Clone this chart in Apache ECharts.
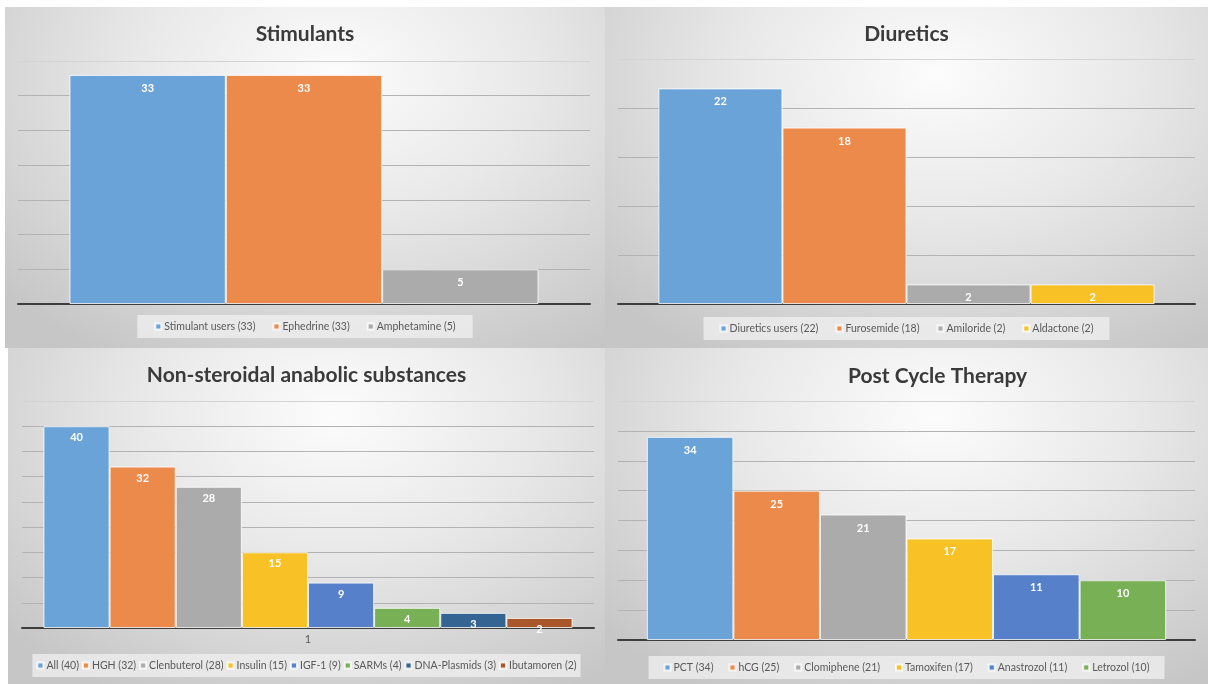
<!DOCTYPE html>
<html><head><meta charset="utf-8">
<script src="https://cdn.jsdelivr.net/npm/echarts@6/dist/echarts.min.js"></script>
<style>
html,body{margin:0;padding:0;background:#fff;width:1208px;height:684px;overflow:hidden;}
.p{position:absolute;background:radial-gradient(ellipse 75% 95% at 55% 20%, #fcfcfc 0%, #e8e8e8 45%, #c6c6c6 100%);}
</style></head>
<body>
<div id="c1" class="p" style="left:5px;top:7px;width:600px;height:341px"></div>
<div id="c2" class="p" style="left:605px;top:7px;width:603px;height:341px"></div>
<div id="c3" class="p" style="left:8px;top:348px;width:597px;height:336px"></div>
<div id="c4" class="p" style="left:605px;top:348px;width:603px;height:336px"></div>
<script>
// ---- data ----
const stimNames = ['Stimulant users (33)', 'Ephedrine (33)', 'Amphetamine (5)'];
const stimValues = [33, 33, 5];
const diurNames = ['Diuretics users (22)', 'Furosemide (18)', 'Amiloride (2)', 'Aldactone (2)'];
const diurValues = [22, 18, 2, 2];
const nsaNames = ['All (40)', 'HGH (32)', 'Clenbuterol (28)', 'Insulin (15)', 'IGF-1 (9)', 'SARMs (4)', 'DNA-Plasmids (3)', 'Ibutamoren (2)'];
const nsaValues = [40, 32, 28, 15, 9, 4, 3, 2];
const pctNames = ['PCT (34)', 'hCG (25)', 'Clomiphene (21)', 'Tamoxifen (17)', 'Anastrozol (11)', 'Letrozol (10)'];
const pctValues = [34, 25, 21, 17, 11, 10];
const categoryLabel = ['1'];

const palette = ['#6aa3d8', '#ec8a4b', '#ababab', '#f8c125', '#5680c9', '#77b055', '#346491', '#a8562a'];

function build(el, cfg) {
  const chart = echarts.init(document.getElementById(el), null, {renderer: 'canvas'});
  const n = cfg.max / cfg.interval;
  const lineColors = [];
  for (let i = 0; i <= n; i++) lineColors.push(i === n ? '#d4d4d4' : '#b3b3b3');
  chart.setOption({
    backgroundColor: 'transparent',
    animation: false,
    color: palette,
    title: {
      text: cfg.title, left: cfg.titleLeft, top: cfg.titleTop,
      textStyle: {fontFamily: 'Lato', fontWeight: 'bold', fontSize: 21, color: '#3a3a3a'}
    },
    legend: {
      data: cfg.names, left: 'center', top: cfg.legendTop,
      icon: 'rect', itemWidth: 6, itemHeight: 6, itemGap: cfg.legendGap,
      backgroundColor: 'rgba(240,240,240,0.75)', padding: [6, cfg.legendPad, 6, cfg.legendPad],
      textStyle: {fontFamily: 'Lato', fontSize: 10.5, color: '#595959', padding: [0, 0, 0, -2]}
    },
    grid: {left: cfg.grid[0], right: cfg.grid[1], top: cfg.grid[2], bottom: cfg.grid[3], containLabel: false},
    xAxis: {
      type: 'category', data: categoryLabel,
      axisTick: {show: false},
      axisLine: {lineStyle: {color: '#3d3d3d', width: 2}},
      axisLabel: {show: cfg.showCat, color: '#595959', fontFamily: 'Lato', fontSize: 11, margin: 6}
    },
    yAxis: {
      type: 'value', min: 0, max: cfg.max, interval: cfg.interval,
      axisLabel: {show: false}, axisLine: {show: false}, axisTick: {show: false},
      splitLine: {lineStyle: {color: lineColors, width: 1}}
    },
    series: cfg.names.map((nm, i) => ({
      type: 'bar', name: nm, data: [cfg.values[i]],
      barGap: '0%', barCategoryGap: cfg.gap,
      itemStyle: {borderColor: 'rgba(255,255,255,0.8)', borderWidth: 1},
      label: {show: true, position: 'insideTop', distance: cfg.labelDist || 8, color: '#ffffff',
              fontFamily: 'Lato', fontWeight: 'bold', fontSize: 11}
    }))
  });
}

build('c1', {title: 'Stimulants', titleLeft: 'center', titleTop: 12, names: stimNames, values: stimValues,
  max: 35, interval: 5, grid: [13, 15, 54, 44], gap: '18%', legendTop: 308, legendGap: 17, legendPad: 17, showCat: false});
build('c2', {title: 'Diuretics', titleLeft: 'center', titleTop: 12, names: diurNames, values: diurValues,
  max: 25, interval: 5, grid: [13, 13, 52, 44], gap: '14%', legendTop: 310, legendGap: 17, legendPad: 16, showCat: false});
build('c3', {title: 'Non-steroidal anabolic substances', titleLeft: 'center', titleTop: 12, names: nsaNames, values: nsaValues,
  max: 45, interval: 5, grid: [14, 11, 53, 56], gap: '7.5%', legendTop: 306, legendGap: 3, legendPad: 4, showCat: true, labelDist: 6});
build('c4', {title: 'Post Cycle Therapy', titleLeft: 238, titleTop: 13, names: pctNames, values: pctValues,
  max: 40, interval: 5, grid: [13, 13, 53, 44], gap: '10%', legendTop: 308, legendGap: 15, legendPad: 15, showCat: false});
</script>
</body></html>
